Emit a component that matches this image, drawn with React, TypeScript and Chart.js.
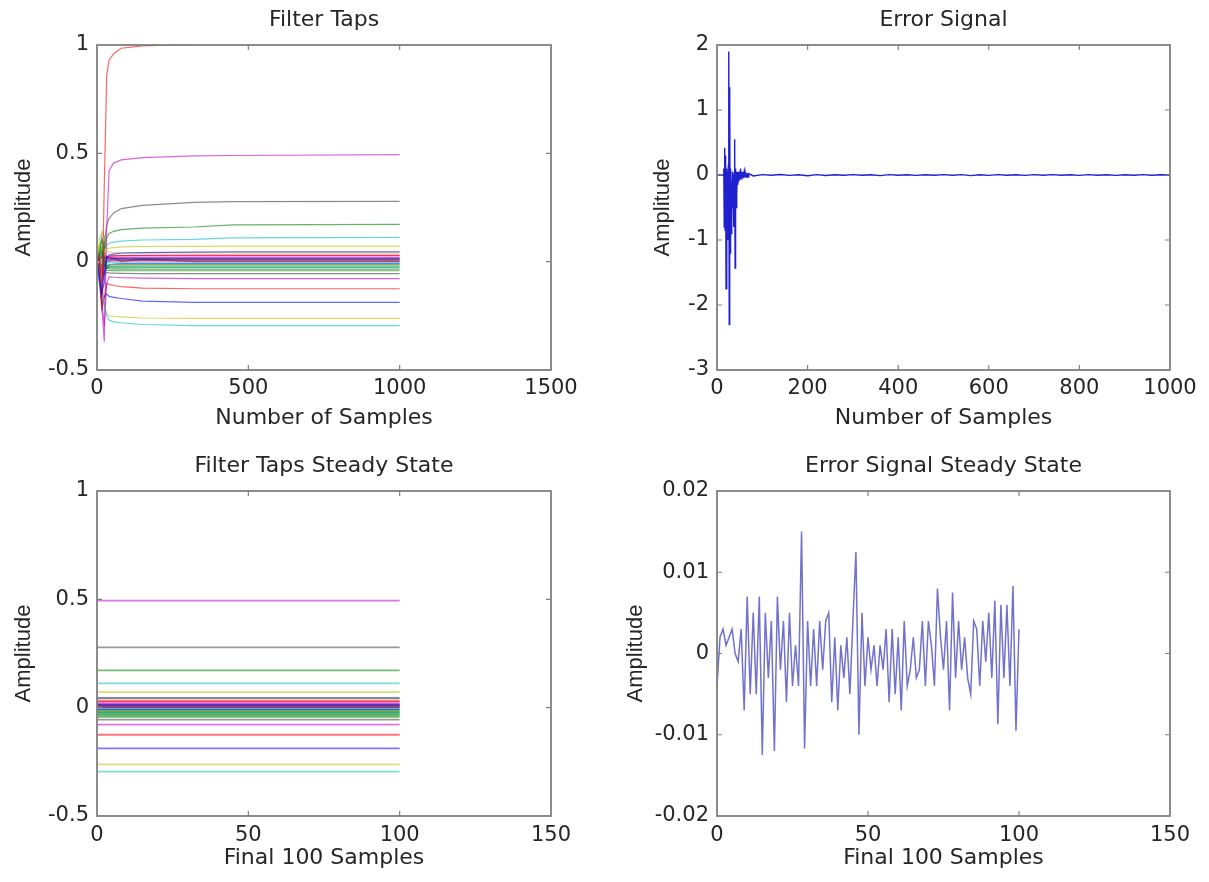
import React, { useEffect, useRef } from 'react';
import { Chart, registerables } from 'chart.js';

Chart.register(...registerables);

const TICK_FONT = "'DejaVu Sans', 'Liberation Sans', Arial, sans-serif";
const YTITLE_FONT = "'Liberation Sans', Arial, Helvetica, sans-serif";
const TEXT_COLOR = '#262626';
const FRAME_COLOR = '#808080';

// MATLAB default line colour order
const COLOR_ORDER = ['#0000ff', '#008000', '#ff0000', '#00bfbf', '#bf00bf', '#bfbf00', '#404040'];

// ---------- Filter Taps (sampled points along the adaptation) ----------
const TAP_X = [0, 8, 16, 24, 32, 40, 55, 80, 150, 320, 450, 1000];
const TAP_TRACES: number[][] = [
  [0, -0.08, -0.15, -0.05, 0.02, 0.015, 0.012, 0.012, 0.012, 0.012, 0.012, 0.012],
  [0, 0.04, 0.07, 0.02, -0.03, -0.02, -0.02, -0.02, -0.02, -0.02, -0.02, -0.02],
  [0, 0.02, -0.22, 0.35, 0.86, 0.93, 0.96, 0.985, 0.996, 1.003, 1.006, 1.01],
  [0, -0.04, -0.12, -0.2, -0.25, -0.27, -0.278, -0.282, -0.29, -0.295, -0.295, -0.295],
  [0, 0.03, -0.2, -0.37, 0.15, 0.42, 0.455, 0.47, 0.48, 0.488, 0.49, 0.494],
  [0, 0.06, -0.08, -0.2, -0.24, -0.25, -0.252, -0.255, -0.26, -0.262, -0.262, -0.262],
  [0, 0.02, -0.06, 0.08, 0.17, 0.2, 0.225, 0.245, 0.26, 0.274, 0.277, 0.278],
  [0, -0.1, -0.2, -0.16, -0.15, -0.16, -0.165, -0.17, -0.182, -0.188, -0.188, -0.188],
  [0, 0.04, 0.1, 0.06, 0.11, 0.13, 0.14, 0.148, 0.155, 0.16, 0.17, 0.172],
  [0, -0.05, -0.22, -0.17, -0.1, -0.105, -0.11, -0.115, -0.122, -0.125, -0.125, -0.125],
  [0, 0.05, 0.12, 0.06, 0.075, 0.085, 0.09, 0.095, 0.1, 0.103, 0.11, 0.112],
  [0, 0.05, -0.18, -0.3, -0.1, -0.07, -0.072, -0.074, -0.076, -0.078, -0.078, -0.078],
  [0, 0.1, 0.14, 0.12, 0.06, 0.062, 0.065, 0.068, 0.07, 0.071, 0.072, 0.072],
  [0, 0.02, -0.04, -0.06, -0.05, -0.052, -0.053, -0.054, -0.055, -0.055, -0.055, -0.055],
  [0, -0.05, -0.14, -0.1, 0.02, 0.03, 0.035, 0.04, 0.042, 0.044, 0.045, 0.045],
  [0, 0.03, 0.05, -0.02, -0.03, -0.032, -0.033, -0.034, -0.035, -0.035, -0.035, -0.035],
  [0, -0.03, -0.1, 0.05, 0.02, 0.025, 0.027, 0.028, 0.029, 0.03, 0.03, 0.03],
  [0, 0.02, 0.04, -0.03, -0.02, -0.022, -0.023, -0.024, -0.025, -0.025, -0.025, -0.025],
  [0, -0.05, -0.12, 0.03, 0.02, 0.02, 0.02, 0.02, 0.02, 0.02, 0.02, 0.02],
  [0, 0.08, 0.1, 0.02, -0.01, -0.012, -0.014, -0.015, -0.015, -0.015, -0.015, -0.015],
  [0, -0.02, 0.03, 0.02, 0.02, 0.018, 0.015, 0.013, 0.012, 0.012, 0.012, 0.012],
  [0, -0.04, -0.1, -0.05, -0.02, -0.015, -0.012, -0.01, -0.01, -0.01, -0.01, -0.01],
  [0, 0.02, 0.05, -0.02, -0.04, -0.04, -0.041, -0.042, -0.042, -0.042, -0.042, -0.042],
  [0, -0.03, -0.06, 0.0, 0.01, 0.008, 0.007, 0.006, 0.006, 0.006, 0.006, 0.006],
  [0, 0.02, 0.03, -0.01, -0.012, -0.012, -0.012, -0.012, -0.012, -0.012, -0.012, -0.012],
  [0, -0.03, -0.08, 0.0, 0.02, 0.025, 0.027, 0.028, 0.028, 0.028, 0.028, 0.028],
  [0, 0.06, 0.1, 0.08, 0.05, 0.045, 0.042, 0.04, 0.04, 0.04, 0.04, 0.04],
  [0, 0.01, -0.02, 0.02, 0.01, 0.005, 0.015, 0.0, 0.012, 0.0, 0.0, 0.0],
  [0, -0.05, -0.08, -0.02, 0.0, 0.002, 0.003, 0.003, 0.003, 0.003, 0.003, 0.003],
  [0, 0.01, 0.03, -0.01, -0.025, -0.027, -0.028, -0.028, -0.028, -0.028, -0.028, -0.028],
  [0, -0.02, -0.05, 0.02, 0.018, 0.016, 0.015, 0.015, 0.015, 0.015, 0.015, 0.015],
  [0, 0.01, 0.02, -0.01, -0.005, -0.005, -0.005, -0.005, -0.005, -0.005, -0.005, -0.005],
];

// ---------- Error Signal ----------
const ERR_EARLY = [
  0, 0, 0, 0, 0, 0, 0, 0, 0, 0, 0, 0, 0, 0, 0,
  0.1, -0.8, 0.42, -0.85, 0.3, -1.75, 0.1, -0.6, 0.05, -1.0,
  0.15, 1.9, -2.3, 1.35, -1.2, 0.1, -0.9, -0.1, -0.7, 0.05,
  -0.5, -0.2, -0.8, 0.0, 0.55, -1.43, 0.1, -0.5, 0.05, -0.3,
  0.05, -0.15, 0.0, -0.1, 0.05, -0.08, 0.06, 0.1, -0.05, 0.04,
  -0.06, 0.05, -0.04, 0.03, -0.05, 0.03, -0.03, 0.04, -0.04, 0.02,
  -0.03, 0.03, -0.02, 0.02, -0.03, 0.02,
];
const ERR_LATE_X = [
  80, 100, 120, 140, 160, 180, 200, 220, 240, 260, 280, 300, 320, 340, 360, 380,
  400, 420, 440, 460, 480, 500, 520, 540, 560, 580, 600, 620, 640, 660, 680, 700,
  720, 740, 760, 780, 800, 820, 840, 860, 880, 900, 920, 940, 960, 980, 1000,
];
const ERR_LATE_Y = [
  -0.015, 0.006, -0.004, 0.008, -0.006, 0.004, -0.012, 0.005, -0.008, 0.004, -0.003, 0.006,
  -0.004, 0.003, -0.01, 0.005, -0.004, 0.003, -0.006, 0.004, -0.003, 0.005, -0.004, 0.006,
  -0.01, 0.004, -0.006, 0.005, -0.004, 0.003, -0.005, 0.006, -0.004, 0.005, -0.003, 0.004,
  -0.006, 0.005, -0.004, 0.004, -0.005, 0.003, -0.004, 0.005, -0.003, 0.004, 0.0,
];

// ---------- Steady state ----------
const STEADY_X = [0, 100];
const STEADY_ERR = [
  -0.004, 0.002, 0.003, 0.001, 0.002, 0.003, 0.0, -0.001, 0.003, -0.007,
  0.007, -0.005, 0.005, -0.005, 0.007, -0.0125, 0.005, -0.003, 0.004, -0.012,
  0.007, -0.002, 0.004, -0.006, 0.005, -0.004, 0.001, -0.004, 0.015, -0.0117,
  0.004, -0.004, 0.003, -0.004, 0.004, -0.002, 0.004, 0.005, -0.006, 0.002,
  -0.007, 0.001, -0.003, 0.002, -0.005, 0.004, 0.0125, -0.01, 0.005, -0.004,
  0.002, -0.002, 0.001, -0.004, 0.001, -0.002, 0.003, -0.006, 0.003, -0.005,
  0.002, -0.007, 0.004, -0.004, -0.002, 0.002, -0.003, -0.002, 0.004, -0.004,
  0.004, 0.001, -0.004, 0.008, 0.002, -0.002, 0.004, -0.007, 0.0075, -0.003,
  0.004, -0.002, 0.002, -0.003, -0.005, 0.004, 0.003, -0.004, 0.004, -0.001,
  0.005, -0.003, 0.0065, -0.0087, 0.006, -0.003, 0.006, -0.004, 0.0083, -0.0095,
  0.003,
];

// ---------- Axes ----------
const TL_X_TICKS = [0, 500, 1000, 1500];
const TL_Y_TICKS = [-0.5, 0, 0.5, 1];
const TR_X_TICKS = [0, 200, 400, 600, 800, 1000];
const TR_Y_TICKS = [-3, -2, -1, 0, 1, 2];
const BL_X_TICKS = [0, 50, 100, 150];
const BL_Y_TICKS = [-0.5, 0, 0.5, 1];
const BR_X_TICKS = [0, 50, 100, 150];
const BR_Y_TICKS = [-0.02, -0.01, 0, 0.01, 0.02];

const frameTicks = {
  id: 'matlabFrame',
  afterDatasetsDraw(chart: any) {
    const { ctx, chartArea: a, scales } = chart;
    ctx.save();
    ctx.strokeStyle = FRAME_COLOR;
    ctx.lineWidth = 1.8;
    ctx.strokeRect(a.left, a.top, a.right - a.left, a.bottom - a.top);
    const len = 5;
    ctx.lineWidth = 1.2;
    ctx.beginPath();
    scales.x.ticks.forEach((t: any) => {
      const p = scales.x.getPixelForValue(t.value);
      if (p <= a.left + 1 || p >= a.right - 1) return;
      ctx.moveTo(p, a.bottom);
      ctx.lineTo(p, a.bottom - len);
      ctx.moveTo(p, a.top);
      ctx.lineTo(p, a.top + len);
    });
    scales.y.ticks.forEach((t: any) => {
      const p = scales.y.getPixelForValue(t.value);
      if (p <= a.top + 1 || p >= a.bottom - 1) return;
      ctx.moveTo(a.left, p);
      ctx.lineTo(a.left + len, p);
      ctx.moveTo(a.right, p);
      ctx.lineTo(a.right - len, p);
    });
    ctx.stroke();
    ctx.restore();
  },
};

type PanelSpec = {
  left: number;
  top: number;
  width: number;
  height: number;
  yWidth: number;
  padRight: number;
  titleHeight: number;
  titleTop: number;
  xHeight: number;
  xTickPad: number;
  xTitleBottom: number;
  yTitleTop: number;
  title: string;
  xTitle: string;
  yTitle: string;
  xMin: number;
  xMax: number;
  yMin: number;
  yMax: number;
  xTicks: number[];
  yTicks: number[];
  datasets: any[];
};

const tickFont = () => ({ family: TICK_FONT, size: 21, weight: 'normal' as const });
const titleFont = () => ({ family: TICK_FONT, size: 22, weight: 'normal' as const });
const yTitleFont = () => ({ family: YTITLE_FONT, size: 22, weight: 'normal' as const });

function buildConfig(s: PanelSpec): any {
  return {
    type: 'line',
    data: { datasets: s.datasets },
    plugins: [frameTicks],
    options: {
      responsive: false,
      animation: false,
      events: [],
      layout: { padding: { left: 0, right: s.padRight, top: 0, bottom: 0 } },
      plugins: {
        legend: { display: false },
        tooltip: { enabled: false },
        title: { display: false },
      },
      scales: {
        x: {
          type: 'linear',
          min: s.xMin,
          max: s.xMax,
          afterBuildTicks: (sc: any) => {
            sc.ticks = s.xTicks.map((v) => ({ value: v }));
          },
          afterFit: (sc: any) => {
            sc.height = s.xHeight;
          },
          grid: { display: false, drawTicks: false },
          border: { display: false },
          ticks: {
            padding: s.xTickPad,
            color: TEXT_COLOR,
            font: tickFont(),
            maxRotation: 0,
            autoSkip: false,
            callback: (v: any) => String(v),
          },
          title: {
            display: true,
            text: s.xTitle,
            color: TEXT_COLOR,
            font: titleFont(),
            padding: { top: 0, bottom: s.xTitleBottom },
          },
        },
        // top axis carries the plot title so that it is centred on the axes box
        xTop: {
          type: 'linear',
          position: 'top',
          min: s.xMin,
          max: s.xMax,
          afterFit: (sc: any) => {
            sc.height = s.titleHeight;
          },
          grid: { display: false, drawTicks: false },
          border: { display: false },
          ticks: { display: false },
          title: {
            display: true,
            text: s.title,
            color: TEXT_COLOR,
            font: titleFont(),
            padding: { top: s.titleTop, bottom: 0 },
          },
        },
        y: {
          type: 'linear',
          min: s.yMin,
          max: s.yMax,
          afterBuildTicks: (sc: any) => {
            sc.ticks = s.yTicks.map((v) => ({ value: v }));
          },
          afterFit: (sc: any) => {
            sc.width = s.yWidth;
          },
          grid: { display: false, drawTicks: false },
          border: { display: false },
          ticks: {
            padding: 8,
            color: TEXT_COLOR,
            font: tickFont(),
            autoSkip: false,
            callback: (v: any) => String(v),
          },
          title: {
            display: true,
            text: s.yTitle,
            color: TEXT_COLOR,
            font: yTitleFont(),
            padding: { top: s.yTitleTop, bottom: 0 },
          },
        },
      },
    },
  };
}

const tapColor = (i: number, alpha: string) => COLOR_ORDER[i % COLOR_ORDER.length] + alpha;

const tapDatasets = TAP_TRACES.map((trace, i) => ({
  data: trace.map((y, j) => ({ x: TAP_X[j], y })),
  borderColor: tapColor(i, '9a'),
  borderWidth: 1.2,
  pointRadius: 0,
  tension: 0,
}));

const steadyTapDatasets = TAP_TRACES.map((trace, i) => ({
  data: STEADY_X.map((x) => ({ x, y: trace[trace.length - 1] })),
  borderColor: tapColor(i, '88'),
  borderWidth: 1.8,
  pointRadius: 0,
  tension: 0,
}));

const errorData = [
  ...ERR_EARLY.map((y, i) => ({ x: i, y })),
  ...ERR_LATE_X.map((x, i) => ({ x, y: ERR_LATE_Y[i] })),
];

const errorDatasets = [
  {
    data: errorData,
    borderColor: '#2020d0',
    borderWidth: 1.4,
    pointRadius: 0,
    tension: 0,
  },
];

const steadyErrDatasets = [
  {
    data: STEADY_ERR.map((y, i) => ({ x: i, y })),
    borderColor: 'rgba(60, 60, 185, 0.72)',
    borderWidth: 1.5,
    pointRadius: 0,
    tension: 0,
  },
];

const PANELS: PanelSpec[] = [
  {
    left: 0, top: 0, width: 604, height: 441,
    yWidth: 97, padRight: 53, titleHeight: 45, titleTop: 7,
    xHeight: 71, xTickPad: 6.4, xTitleBottom: 9.8, yTitleTop: 10.8,
    title: 'Filter Taps', xTitle: 'Number of Samples', yTitle: 'Amplitude',
    xMin: 0, xMax: 1500, yMin: -0.5, yMax: 1,
    xTicks: TL_X_TICKS, yTicks: TL_Y_TICKS, datasets: tapDatasets,
  },
  {
    left: 604, top: 0, width: 605, height: 441,
    yWidth: 113, padRight: 39, titleHeight: 45, titleTop: 7,
    xHeight: 71, xTickPad: 6.4, xTitleBottom: 9.8, yTitleTop: 45.8,
    title: 'Error Signal', xTitle: 'Number of Samples', yTitle: 'Amplitude',
    xMin: 0, xMax: 1000, yMin: -3, yMax: 2,
    xTicks: TR_X_TICKS, yTicks: TR_Y_TICKS, datasets: errorDatasets,
  },
  {
    left: 0, top: 441, width: 604, height: 441,
    yWidth: 97, padRight: 53, titleHeight: 50, titleTop: 11.8,
    xHeight: 66, xTickPad: 7.4, xTitleBottom: 10.8, yTitleTop: 10.8,
    title: 'Filter Taps Steady State', xTitle: 'Final 100 Samples', yTitle: 'Amplitude',
    xMin: 0, xMax: 150, yMin: -0.5, yMax: 1,
    xTicks: BL_X_TICKS, yTicks: BL_Y_TICKS, datasets: steadyTapDatasets,
  },
  {
    left: 604, top: 441, width: 605, height: 441,
    yWidth: 113, padRight: 39, titleHeight: 50, titleTop: 11.8,
    xHeight: 66, xTickPad: 7.4, xTitleBottom: 10.8, yTitleTop: 18.8,
    title: 'Error Signal Steady State', xTitle: 'Final 100 Samples', yTitle: 'Amplitude',
    xMin: 0, xMax: 150, yMin: -0.02, yMax: 0.02,
    xTicks: BR_X_TICKS, yTicks: BR_Y_TICKS, datasets: steadyErrDatasets,
  },
];

function Panel({ spec }: { spec: PanelSpec }) {
  const ref = useRef<HTMLCanvasElement | null>(null);
  useEffect(() => {
    if (!ref.current) return;
    const chart = new Chart(ref.current, buildConfig(spec));
    return () => chart.destroy();
  }, [spec]);
  return (
    <canvas
      ref={ref}
      width={spec.width}
      height={spec.height}
      style={{
        position: 'absolute',
        left: spec.left,
        top: spec.top,
        width: spec.width,
        height: spec.height,
        display: 'block',
      }}
    />
  );
}

export default function App() {
  return (
    <div
      style={{
        position: 'absolute',
        left: 0,
        top: 0,
        width: 1209,
        height: 882,
        background: '#ffffff',
        overflow: 'hidden',
      }}
    >
      {PANELS.map((p, i) => (
        <Panel key={i} spec={p} />
      ))}
    </div>
  );
}
